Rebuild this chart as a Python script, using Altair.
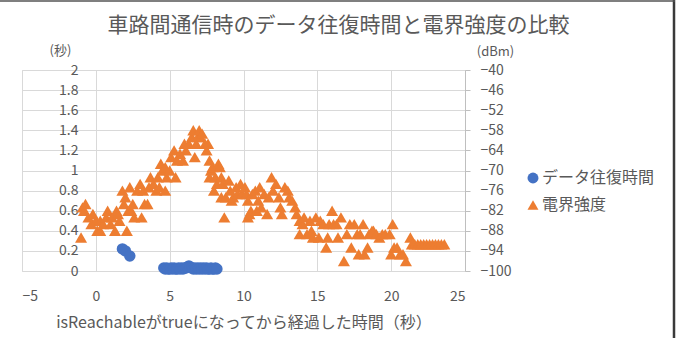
import altair as alt
import pandas as pd

# ---- data ----
rtt_t = [1.8, 2.0, 2.3,
         4.6, 4.7, 4.8, 4.9, 5.0, 5.1, 5.2, 5.3, 5.4, 5.5, 5.6, 5.7, 5.8, 5.9,
         6.0, 6.1, 6.2, 6.3, 6.4, 6.5, 6.6, 6.7, 6.8, 6.9, 7.0, 7.1, 7.2, 7.3,
         7.4, 7.5, 7.6, 7.7, 7.8, 7.9, 8.0, 8.1, 8.2]
rtt_v = [0.22, 0.20, 0.15,
         0.03, 0.02, 0.03, 0.02, 0.02, 0.03, 0.02, 0.03, 0.02, 0.02, 0.03, 0.02, 0.03, 0.02,
         0.03, 0.03, 0.04, 0.05, 0.04, 0.03, 0.02, 0.03, 0.02, 0.03, 0.02, 0.03, 0.02, 0.03,
         0.02, 0.03, 0.02, 0.02, 0.03, 0.02, 0.02, 0.03, 0.02]

rssi_t = [-1.0, -0.9, -0.8, -0.7, -0.5, -0.3, -0.2, 0.0, 0.1, 0.3, 0.3, 0.5, 0.7, 0.8,
          1.0, 1.1, 1.3, 1.4, 1.5, 1.6, 1.8, 1.9, 2.0, 2.1, 2.2, 2.3, 2.4, 2.5, 2.6,
          2.8, 3.0, 3.1, 3.2, 3.3, 3.5, 3.6, 3.7, 3.9, 4.1, 4.2, 4.3, 4.4, 4.5, 4.7,
          4.7, 4.8, 5.0, 5.1, 5.3, 5.4, 5.5, 5.7, 5.9, 6.0, 6.1, 6.3, 6.5, 6.6, 6.7,
          6.8, 6.9, 7.0, 7.1, 7.2, 7.4, 7.5, 7.6, 7.7, 7.7, 7.8, 7.9, 8.0, 8.1, 8.2,
          8.3, 8.4, 8.5, 8.5, 8.6, 8.7, 8.8, 9.0, 9.1, 9.2, 9.3, 9.5, 9.6, 9.8, 9.9,
          10.1, 10.2, 10.3, 10.3, 10.4, 10.5, 10.6, 10.8, 10.9, 11.0, 11.1, 11.2, 11.4,
          11.6, 11.7, 11.9, 12.0, 12.2, 12.4, 12.5, 12.6, 12.8, 13.0, 13.1, 13.3, 13.5,
          13.6, 13.8, 13.8, 14.0, 14.1, 14.3, 14.5, 14.6, 14.7, 14.9, 15.1, 15.2, 15.4,
          15.6, 15.7, 15.8, 16.0, 16.1, 16.3, 16.4, 16.6, 16.8, 17.0, 17.2, 17.3, 17.5,
          17.7, 17.8, 17.9, 18.1, 18.2, 18.4, 18.5, 18.7, 18.8, 19.0, 19.2, 19.4, 19.6,
          19.9, 20.1, 20.0, 20.2, 20.4, 20.6, 20.8, 21.0, 21.3, 21.4, 21.6, 21.8, 22.0,
          22.2, 22.4, 22.6, 22.8, 23.0, 23.2, 23.4, 23.6]
rssi_v = [-90, -81, -82, -80, -84, -86, -83, -85, -88, -88, -85, -86, -84, -82,
          -86, -84, -88, -82, -83, -85, -76, -80, -78, -88, -82, -75, -82, -80, -84,
          -76, -74, -84, -76, -80, -80, -75, -72, -74, -76, -72, -75, -68, -70, -69,
          -76, -72, -70, -66, -64, -72, -67, -65, -67, -62, -64, -62, -60, -58, -66,
          -62, -60, -58, -60, -59, -62, -64, -62, -67, -72, -70, -69, -76, -72, -74,
          -68, -69, -72, -78, -74, -84, -78, -73, -76, -79, -78, -75, -77, -74, -77,
          -75, -77, -79, -84, -83, -82, -77, -76, -82, -79, -75, -81, -77,
          -83, -78, -72, -76, -74, -78, -81, -83, -75, -76, -78, -79, -81,
          -83, -85, -89, -86, -84, -89, -85, -88, -90, -84, -90, -85, -86,
          -93, -90, -86, -82, -86, -86, -90, -84, -97, -89, -86, -93, -86,
          -89, -95, -89, -86, -95, -93, -89, -88, -88, -89, -90, -89, -89,
          -89, -86, -95, -93, -93, -95, -95, -97, -90, -92, -92, -92, -92,
          -92, -92, -92, -92, -92, -92, -92, -92]

series_names = ["データ往復時間", "電界強度"]
series_colors = ["#4472C4", "#ED7D31"]
series_shapes = ["circle", "triangle-up"]

x_ticks = [-5, 0, 5, 10, 15, 20, 25]
left_ticks = [0, 0.2, 0.4, 0.6, 0.8, 1, 1.2, 1.4, 1.6, 1.8, 2]
right_ticks = [-100, -94, -88, -82, -76, -70, -64, -58, -52, -46, -40]

title_text = "車路間通信時のデータ往復時間と電界強度の比較"
x_title = "isReachableがtrueになってから経過した時間（秒）"
left_unit = "(秒)"
right_unit = "(dBm)"

rtt_df = pd.DataFrame({"t": rtt_t, "v": rtt_v, "series": series_names[0]})
rssi_df = pd.DataFrame({"t": rssi_t, "v": rssi_v, "series": series_names[1]})

FONT = "Noto Sans CJK JP"
GRAY = "#595959"
GRID = "#d9d9d9"

color_scale = alt.Scale(domain=series_names, range=series_colors)
shape_scale = alt.Scale(domain=series_names, range=series_shapes)
legend = alt.Legend(title=None, orient="none", legendX=503, legendY=100,
                    labelFont=FONT, labelFontSize=16, labelColor=GRAY,
                    symbolSize=120, symbolStrokeWidth=0, rowPadding=11,
                    labelOffset=1)

x_enc = alt.X("t:Q", scale=alt.Scale(domain=[-5, 25], nice=False, zero=False),
              axis=alt.Axis(values=x_ticks, title=x_title, grid=True, gridColor=GRID,
                            domain=False, ticks=False, labelPadding=18,
                            labelFont=FONT, labelFontSize=14, labelColor=GRAY,
                            titleFont=FONT, titleFontSize=16, titleColor=GRAY,
                            titleFontWeight="normal", titleY=51, titleBaseline="middle"))

rtt = alt.Chart(rtt_df).mark_point(filled=True, opacity=1, size=130).encode(
    x=x_enc,
    y=alt.Y("v:Q", scale=alt.Scale(domain=[0, 2], nice=False),
            axis=alt.Axis(values=left_ticks, format=".1~f", title=left_unit, orient="left",
                          grid=True, gridColor=GRID, domain=False, ticks=False,
                          labelPadding=-56, labelFont=FONT, labelFontSize=14,
                          labelColor=GRAY, titleFont=FONT, titleFontSize=13,
                          titleColor=GRAY, titleFontWeight="normal", titleAngle=0,
                          titleX=38, titleY=-20, titleAlign="center",
                          titleBaseline="middle")),
    color=alt.Color("series:N", scale=color_scale, legend=legend),
    shape=alt.Shape("series:N", scale=shape_scale, legend=legend),
)

rssi = alt.Chart(rssi_df).mark_point(filled=True, opacity=1, size=145).encode(
    x=x_enc,
    y=alt.Y("v:Q", scale=alt.Scale(domain=[-100, -40], nice=False, zero=False),
            axis=alt.Axis(values=right_ticks, title=right_unit, orient="right",
                          grid=False, domain=True, domainColor="#bfbfbf",
                          ticks=True, tickSize=5, tickColor="#bfbfbf",
                          labelPadding=10, labelFont=FONT, labelFontSize=14,
                          labelColor=GRAY, titleFont=FONT, titleFontSize=13,
                          titleColor=GRAY, titleFontWeight="normal", titleAngle=0,
                          titleX=30, titleY=-19, titleAlign="center",
                          titleBaseline="middle")),
    color=alt.Color("series:N", scale=color_scale, legend=legend),
    shape=alt.Shape("series:N", scale=shape_scale, legend=legend),
)

frame_data = alt.Data(values=[{"k": 1}])
right_border = alt.Chart(frame_data).mark_rule(color="#3a3a3a", strokeWidth=2.5).encode(
    x=alt.value(652), y=alt.value(-70), y2=alt.value(268))
top_border = alt.Chart(frame_data).mark_rule(color="#555555", strokeWidth=1.5).encode(
    x=alt.value(-22), x2=alt.value(653), y=alt.value(-69))

chart = alt.layer(rtt, rssi, right_border, top_border).resolve_scale(
    y="independent"
).properties(
    width=443, height=201,
    title=alt.TitleParams(title_text, font=FONT, fontSize=21, fontWeight="normal",
                          color=GRAY, anchor="middle", dx=95, offset=0, dy=37),
    padding={"left": 22, "top": 70, "right": 213, "bottom": 67},
    autosize=alt.AutoSizeParams(type="none"),
).configure_view(stroke=None).configure(background="white")

chart.save("out.html", embed_options={"renderer": "svg", "actions": False})
